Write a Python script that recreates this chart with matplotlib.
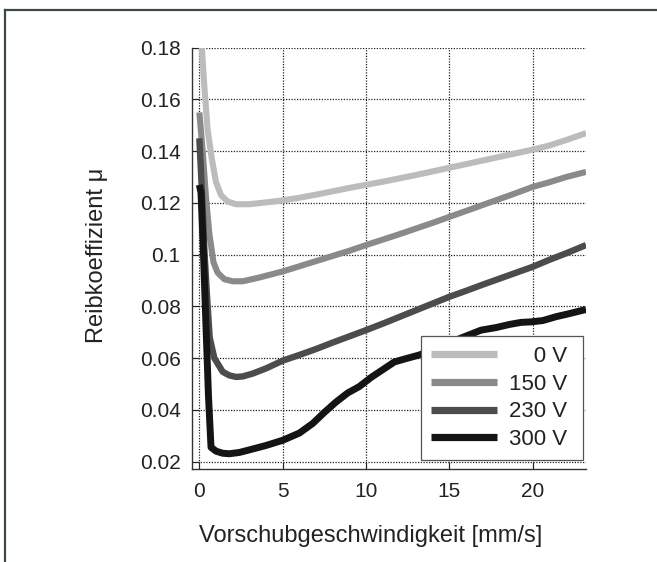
import matplotlib
matplotlib.use('Agg')
import matplotlib.pyplot as plt
from matplotlib.lines import Line2D

plt.rcParams['font.family'] = ['Liberation Sans', 'DejaVu Sans']

# Reibkoeffizient über Vorschubgeschwindigkeit, je Spannung
x_0v = [0.1, 0.3, 0.5, 0.75, 1.0, 1.3, 1.7, 2.2, 3, 4, 5, 6, 7, 8, 9, 10, 11, 12, 13, 14,
        15, 16, 17, 18, 19, 20, 21, 22, 23.2]
mu_0v = [0.185, 0.165, 0.148, 0.137, 0.128, 0.123, 0.1205, 0.1195, 0.1195, 0.1202, 0.121,
         0.122, 0.1232, 0.1245, 0.1258, 0.127, 0.1282, 0.1295, 0.1308, 0.1322, 0.1336,
         0.135, 0.1364, 0.1378, 0.1392, 0.1406, 0.1422, 0.1443, 0.147]

x_150v = [0, 0.2, 0.4, 0.6, 0.85, 1.1, 1.5, 2.0, 2.6, 3.5, 5, 6, 7, 8, 9, 10, 11, 12, 13,
          14, 15, 16, 17, 18, 19, 20, 21, 22, 23.2]
mu_150v = [0.155, 0.140, 0.122, 0.108, 0.097, 0.093, 0.0905, 0.0897, 0.0897, 0.0910,
           0.0935, 0.0955, 0.0975, 0.0995, 0.1015, 0.1037, 0.1058, 0.1079, 0.1101, 0.1123,
           0.1146, 0.1169, 0.1192, 0.1215, 0.1238, 0.1262, 0.128, 0.130, 0.132]

x_230v = [0, 0.15, 0.3, 0.45, 0.62, 0.9, 1.4, 1.8, 2.2, 2.6, 3.2, 4, 5, 6, 7, 8, 9, 10, 11,
          12, 13, 14, 15, 16, 17, 18, 19, 20, 21, 22, 23.2]
mu_230v = [0.145, 0.125, 0.102, 0.085, 0.068, 0.060, 0.0547, 0.0533, 0.0527, 0.0529,
           0.0540, 0.0560, 0.0590, 0.0612, 0.0635, 0.0660, 0.0684, 0.0708, 0.0733, 0.0759,
           0.0785, 0.0811, 0.0837, 0.0860, 0.0884, 0.0907, 0.0930, 0.0953, 0.0980, 0.1005,
           0.1037]

x_300v = [0, 0.1, 0.25, 0.4, 0.55, 0.7, 1.0, 1.4, 1.8, 2.4, 3.0, 4.0, 5.0, 6.0, 6.8, 7.5,
          8.2, 8.9, 9.6, 10.3, 11.0, 11.7, 12.4, 13.2, 14.0, 14.9, 15.8, 16.9, 17.8, 18.6,
          19.3, 19.9, 20.6, 21.4, 22.2, 23.2]
mu_300v = [0.127, 0.124, 0.100, 0.072, 0.045, 0.0255, 0.0240, 0.0232, 0.0230, 0.0235,
           0.0245, 0.0262, 0.0282, 0.0310, 0.0347, 0.0390, 0.0430, 0.0465, 0.0490, 0.0525,
           0.0555, 0.0585, 0.0598, 0.0612, 0.0632, 0.0656, 0.0680, 0.0708, 0.0718, 0.0730,
           0.0738, 0.0740, 0.0745, 0.0760, 0.0772, 0.0788]

labels = ['0 V', '150 V', '230 V', '300 V']
colors = ['#bcbcbc', '#8a8a8a', '#4c4c4c', '#141414']
widths = [4.4, 4.4, 4.6, 5.0]

yticks = [0.02, 0.04, 0.06, 0.08, 0.1, 0.12, 0.14, 0.16, 0.18]
ytick_labels = ['0.02', '0.04', '0.06', '0.08', '0.1', '0.12', '0.14', '0.16', '0.18']
xticks = [0, 5, 10, 15, 20]

fig = plt.figure(figsize=(6.57, 5.62), dpi=100)
ax = fig.add_axes([0.292, 0.165, 0.600, 0.750])

series = [(x_0v, mu_0v), (x_150v, mu_150v), (x_230v, mu_230v), (x_300v, mu_300v)]
for (xs, ys), c, w in zip(series, colors, widths):
    ax.plot(xs, ys, color=c, lw=w, solid_capstyle='butt', solid_joinstyle='round')

ax.set_xlim(-0.45, 23.2)
ax.set_ylim(0.017, 0.18)
ax.set_xticks(xticks)
ax.set_yticks(yticks)
ax.set_yticklabels(ytick_labels)
ax.tick_params(direction='in', length=5, width=0.8, labelsize=15, colors='#222222')
ax.tick_params(axis='x', pad=9)
ax.tick_params(axis='y', pad=8)

ax.grid(True, color='#222222', linestyle=(0, (1, 1.2)), linewidth=0.9)
ax.spines['right'].set_visible(False)
ax.spines['top'].set_visible(False)
for s in ['left', 'bottom']:
    ax.spines[s].set_color('#333333')
    ax.spines[s].set_linewidth(1.0)

ax.set_xlabel('Vorschubgeschwindigkeit [mm/s]', fontsize=17, color='#222222', va='center')
ax.set_ylabel('Reibkoeffizient μ', fontsize=17, color='#222222', va='center')
ax.xaxis.set_label_coords(0.454, -0.158)
ax.yaxis.set_label_coords(-0.241, 0.508)

# legend with the voltages aligned to the right
handles = [Line2D([0], [0], color=c, lw=5.2, solid_capstyle='butt') for c in colors]
fsp = '\u2007'
padded = [fsp * (5 - len(l)) + l + ' ' for l in labels]
leg = ax.legend(handles, padded, loc='lower right', bbox_to_anchor=(0.992, 0.022),
                borderaxespad=0, fancybox=False, edgecolor='#555555', framealpha=1,
                fontsize=16, handlelength=3.0, handletextpad=0.5, labelspacing=0.3,
                borderpad=0.45)
leg.get_frame().set_linewidth(0.9)
for t in leg.get_texts():
    t.set_color('#222222')

# outer frame lines
fig.add_artist(Line2D([4.5 / 657, 4.5 / 657], [0, 1 - 9.5 / 562], color='#3a4848', lw=1.6))
fig.add_artist(Line2D([4.5 / 657, 1], [1 - 9.5 / 562, 1 - 9.5 / 562], color='#3a4848', lw=1.6))

fig.savefig('out.png', dpi=100)
